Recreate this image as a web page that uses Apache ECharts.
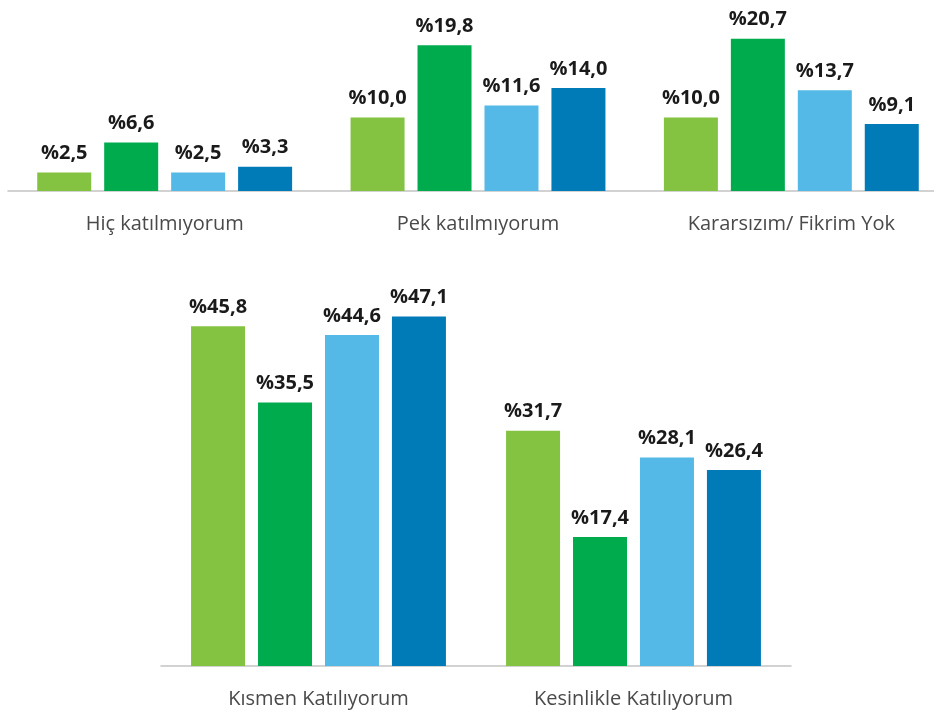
<!DOCTYPE html>
<html>
<head>
<meta charset="utf-8">
<script src="https://cdn.jsdelivr.net/npm/echarts@6/dist/echarts.min.js"></script>
<style>
  html, body { margin: 0; padding: 0; background: #fff; }
  #main { width: 934px; height: 715px; }
</style>
</head>
<body>
<div id="main"></div>
<script>
var topCategories = ['Hiç katılmıyorum', 'Pek katılmıyorum', 'Kararsızım/ Fikrim Yok'];
var bottomCategories = ['Kısmen Katılıyorum', 'Kesinlikle Katılıyorum'];

// four series per group (colour order: light green, green, light blue, blue)
var topSeries1 = [2.5, 10.0, 10.0];
var topSeries2 = [6.6, 19.8, 20.7];
var topSeries3 = [2.5, 11.6, 13.7];
var topSeries4 = [3.3, 14.0, 9.1];

var bottomSeries1 = [45.8, 31.7];
var bottomSeries2 = [35.5, 17.4];
var bottomSeries3 = [44.6, 28.1];
var bottomSeries4 = [47.1, 26.4];

var colors = ['#84C341', '#00AB4E', '#55B9E8', '#007BB8'];

var font = '"Open Sans", "Noto Sans", sans-serif';

function fmt(p) {
    return '%' + p.value.toFixed(1).replace('.', ',');
}

function makeSeries(values, idx, axisIdx) {
    return {
        type: 'bar',
        xAxisIndex: axisIdx,
        yAxisIndex: axisIdx,
        data: values,
        barWidth: 54,
        barGap: '24%',
        itemStyle: { color: colors[idx] },
        label: {
            show: true,
            position: 'top',
            distance: 9,
            formatter: fmt,
            color: '#1a1a1a',
            fontFamily: font,
            fontWeight: 700,
            fontSize: 20
        },
        emphasis: { disabled: true }
    };
}

function makeXAxis(cats, gridIdx) {
    return {
        type: 'category',
        gridIndex: gridIdx,
        data: cats,
        axisLine: { lineStyle: { color: '#c4c4c4', width: 1.5 } },
        axisTick: { show: false },
        axisLabel: {
            color: '#4a4a4a',
            fontFamily: font,
            fontSize: 20,
            margin: 23
        }
    };
}

function makeYAxis(max, gridIdx) {
    return {
        type: 'value',
        gridIndex: gridIdx,
        min: 0,
        max: max,
        show: false,
        splitLine: { show: false }
    };
}

var chart = echarts.init(document.getElementById('main'));
chart.setOption({
    animation: false,
    grid: [
        { left: 8, top: 7, width: 940, height: 184, outerBoundsMode: 'none', containLabel: false },
        { left: 161, top: 295, width: 630, height: 371, outerBoundsMode: 'none', containLabel: false }
    ],
    xAxis: [makeXAxis(topCategories, 0), makeXAxis(bottomCategories, 1)],
    yAxis: [makeYAxis(25, 0), makeYAxis(50, 1)],
    series: [
        makeSeries(topSeries1, 0, 0),
        makeSeries(topSeries2, 1, 0),
        makeSeries(topSeries3, 2, 0),
        makeSeries(topSeries4, 3, 0),
        makeSeries(bottomSeries1, 0, 1),
        makeSeries(bottomSeries2, 1, 1),
        makeSeries(bottomSeries3, 2, 1),
        makeSeries(bottomSeries4, 3, 1)
    ]
});
</script>
</body>
</html>
